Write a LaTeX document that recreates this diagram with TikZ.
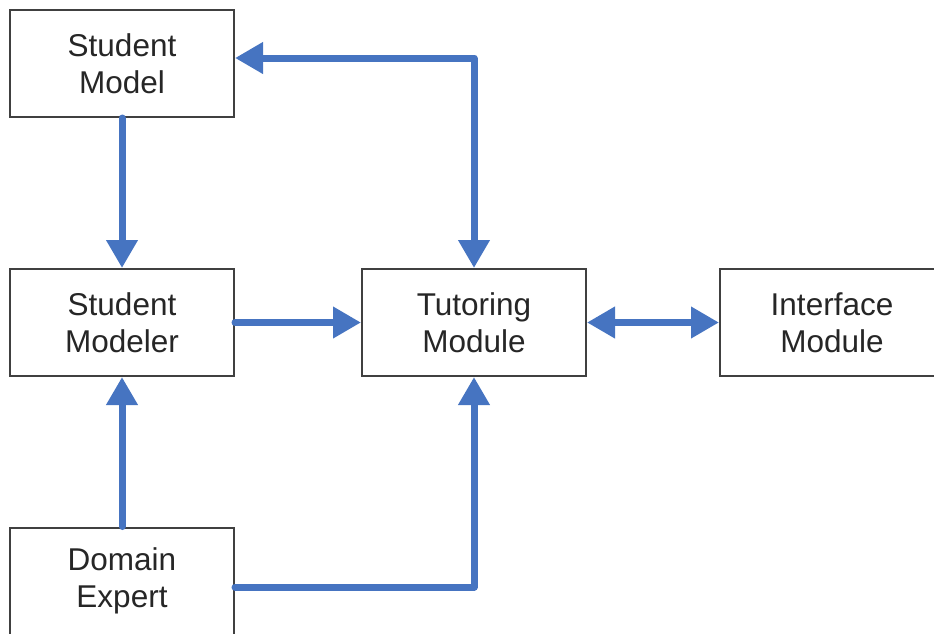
\documentclass[tikz,border=0pt]{standalone}
\usepackage{fontspec}
\setmainfont{Liberation Sans}
\usetikzlibrary{arrows.meta}
\definecolor{arrowblue}{HTML}{4674C1}
\definecolor{boxgray}{HTML}{404040}
\begin{document}
\begin{tikzpicture}[x=1pt,y=1pt,
  box/.style={draw=boxgray, line width=2pt, fill=white, minimum width=224pt, minimum height=107pt,
    align=center, inner sep=0pt, font=\fontsize{31.5}{37}\selectfont, text=black!85},
  conn/.style={draw=arrowblue, line width=7pt, line cap=round, line join=round,
    -{Triangle[length=28pt,width=30pt]}},
  biconn/.style={conn, {Triangle[length=28pt,width=30pt]}-{Triangle[length=28pt,width=30pt]}}]
\useasboundingbox (0,0) rectangle (934,-633);
\node[box] (sm) at (122,-63.5) {Student\\Model};
\node[box] (smd) at (122,-322.5) {Student\\Modeler};
\node[box] (de) at (122,-581) {Domain\\Expert};
\node[box] (tm) at (474,-322.5) {Tutoring\\Module};
\node[box] (im) at (832,-322.5) {Interface\\Module};
\draw[conn] (sm.south) -- (smd.north);
\draw[conn] (de.north) -- (smd.south);
\draw[conn] (smd.east) -- (tm.west);
\draw[biconn] (tm.east) -- (im.west);
\draw[biconn] ([yshift=5.5pt]sm.east) -| (tm.north);
\draw[conn] ([yshift=-6pt]de.east) -| (tm.south);
\end{tikzpicture}
\end{document}
